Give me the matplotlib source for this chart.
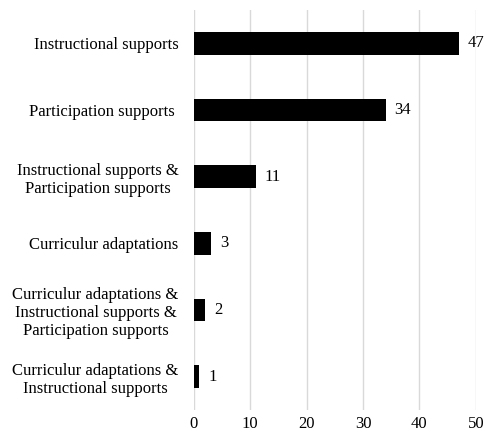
import matplotlib
matplotlib.use("Agg")
import matplotlib.pyplot as plt

categories = [
    "Instructional supports",
    "Participation supports ",
    "Instructional supports &\nParticipation supports",
    "Curriculur adaptations",
    "Curriculur adaptations &\nInstructional supports &\nParticipation supports",
    "Curriculur adaptations &\nInstructional supports",
]
counts = [47, 34, 11, 3, 2, 1]
x_ticks = [0, 10, 20, 30, 40, 50]

plt.rcParams["font.family"] = ["Liberation Serif", "DejaVu Serif"]

fig = plt.figure(figsize=(4.87, 4.38), dpi=100)
ax = fig.add_axes([0.398, 0.064, 0.579, 0.913])

ypos = list(range(len(categories)))
ax.barh(ypos, counts, height=0.34, color="black", zorder=3)
ax.set_ylim(len(categories) - 0.5, -0.5)
ax.set_xlim(0, 50)
ax.set_xticks(x_ticks)
ax.set_xticklabels([str(t) for t in x_ticks], fontsize=12)
ax.set_yticks(ypos)
ax.set_yticklabels(categories, fontsize=12, multialignment="center",
                   linespacing=1.18)
ax.tick_params(axis="both", length=0, colors="black")
ax.tick_params(axis="y", pad=11)
ax.tick_params(axis="x", pad=4)

ax.grid(axis="x", color="#d9d9d9", linewidth=1.0, zorder=0)
for s in ax.spines.values():
    s.set_visible(False)

for y, v in zip(ypos, counts):
    ax.annotate(str(v), (v, y), xytext=(6.5, 0), textcoords="offset points",
                va="center", ha="left", fontsize=12)

fig.savefig("out.png", dpi=100)
